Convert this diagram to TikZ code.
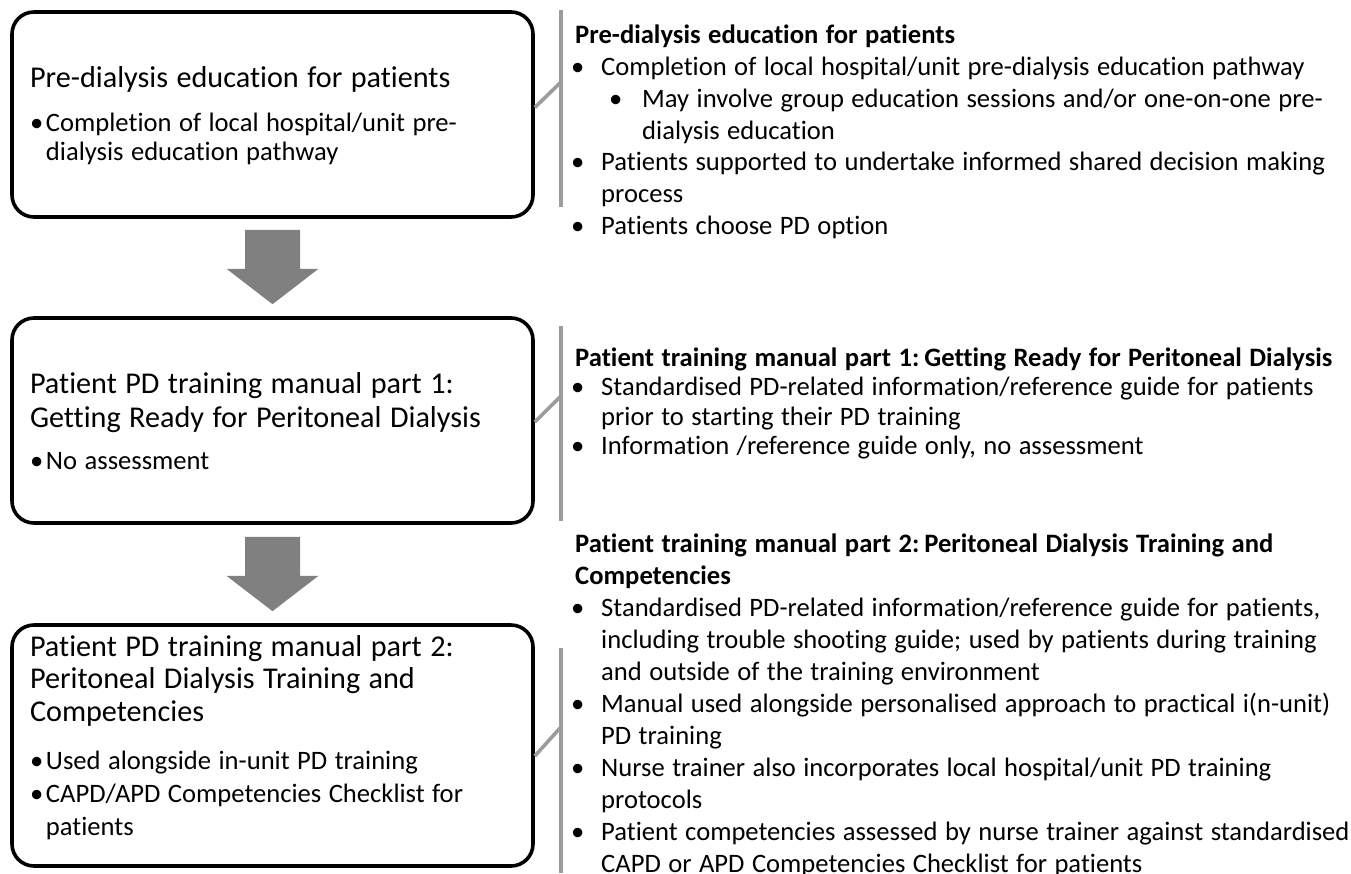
\documentclass[tikz,border=0pt]{standalone}
\usepackage{fontspec}
\setmainfont{Carlito}[Ligatures=NoCommon]
\usetikzlibrary{calc}
\setlength{\parindent}{0pt}
\setlength{\parskip}{0pt}
\hyphenpenalty=10000
\hbadness=10000

\definecolor{arrowgrey}{HTML}{808080}
\definecolor{bracegrey}{HTML}{9C9C9C}

% line break that keeps the hanging indent of the paragraph
\newcommand{\nl}{\hfil\break}
% bullet inside the left-hand boxes
\newcommand{\boxbullet}[1]{\hangindent=16pt\hangafter=1\noindent\makebox[16pt][l]{•}#1\par}
% first- and second-level bullets of the side notes
\newcommand{\notebullet}[1]{\hangindent=26pt\hangafter=1\noindent\makebox[26pt][l]{\hspace{-4pt}•}#1\par}
\newcommand{\subnotebullet}[1]{\hangindent=67pt\hangafter=1\noindent\hspace{34pt}\makebox[33pt][l]{•}#1\par}
% slightly wider word spaces as in the slide text
\newcommand{\widespaces}{\spaceskip=0.28em plus 0.05em minus 0.03em\relax}
\newcommand{\titlefont}[1]{\fontsize{30.2}{#1}\selectfont\widespaces}
\newcommand{\bodyfont}[1]{\fontsize{26.6}{#1}\selectfont\widespaces}

\tikzset{
  stage/.style={draw=black, line width=3.6pt, rounded corners=22pt, fill=white,
    minimum width=521pt, text width=485pt, inner xsep=18pt, inner ysep=0pt,
    align=left},
  note/.style={anchor=north west, inner sep=0pt, text width=800pt, align=left},
  flowarrow/.style={fill=arrowgrey, draw=none},
  brace/.style={draw=bracegrey, line width=3.6pt},
}

\begin{document}
\begin{tikzpicture}[x=1pt, y=-1pt]
\useasboundingbox (0,0) rectangle (1351,873);

% ---- stages ----
\node[stage, minimum height=205pt] (b1) at (272.5,114.5) {%
  {\titlefont{34}\rule{0pt}{24pt}Pre-dialysis education for patients\par}%
  \vspace{15pt}%
  {\bodyfont{29}%
   \boxbullet{Completion of local hospital/unit pre-\nl dialysis education pathway\rule[-6pt]{0pt}{6pt}}}};

\node[stage, minimum height=205pt] (b2) at (272.5,420.5) {%
  {\titlefont{34}\rule{0pt}{24pt}Patient PD training manual part 1:\nl Getting Ready for Peritoneal Dialysis\par}%
  \vspace{9pt}%
  {\bodyfont{33}%
   \boxbullet{No assessment\rule[-2pt]{0pt}{2pt}}}};

\node[stage, minimum height=241pt] (b3) at (272.5,745.5) {%
  {\titlefont{32.5}\rule{0pt}{24pt}Patient PD training manual part 2:\nl Peritoneal Dialysis Training and\nl Competencies\par}%
  \vspace{15pt}%
  {\bodyfont{33}%
   \boxbullet{Used alongside in-unit PD training}
   \boxbullet{CAPD/APD Competencies Checklist for\nl patients\rule[-24pt]{0pt}{24pt}}}};

% ---- arrows between stages ----
\fill[flowarrow] ($(b1.south)+(-27.5,11)$) -- ($(b1.south)+(27.5,11)$)
  -- ($(b1.south)+(27.5,50)$) -- ($(b1.south)+(46,50)$)
  -- ($(b2.north)+(0,-12)$)
  -- ($(b1.south)+(-46,50)$) -- ($(b1.south)+(-27.5,50)$) -- cycle;
\fill[flowarrow] ($(b2.south)+(-27.5,12)$) -- ($(b2.south)+(27.5,12)$)
  -- ($(b2.south)+(27.5,51)$) -- ($(b2.south)+(46,51)$)
  -- ($(b3.north)+(0,-12)$)
  -- ($(b2.south)+(-46,51)$) -- ($(b2.south)+(-27.5,51)$) -- cycle;

% ---- side notes ----
\node[note] (t1) at (575,21.5) {\bodyfont{31.8}%
  \rule{0pt}{22pt}\textbf{Pre-dialysis education for patients}\par
  \notebullet{Completion of local hospital/unit pre-dialysis education pathway}
  \subnotebullet{May involve group education sessions and/or one-on-one pre-\nl dialysis education}
  \notebullet{Patients supported to undertake informed shared decision making\nl process}
  \notebullet{Patients choose PD option}};

\node[note] (t2) at (575,344) {\bodyfont{29.4}%
  \rule{0pt}{22pt}\textbf{Patient training manual part 1: Getting Ready for Peritoneal Dialysis}\par
  \notebullet{Standardised PD-related information/reference guide for patients\nl prior to starting their PD training}
  \notebullet{Information /reference guide only, no assessment}};

\node[note] (t3) at (575,530) {\bodyfont{32}%
  \rule{0pt}{22pt}\textbf{Patient training manual part 2: Peritoneal Dialysis Training and}\nl
  \textbf{Competencies}\par
  \notebullet{Standardised PD-related information/reference guide for patients,\nl including trouble shooting guide; used by patients during training\nl and outside of the training environment}
  \notebullet{Manual used alongside personalised approach to practical i(n-unit)\nl PD training}
  \notebullet{Nurse trainer also incorporates local hospital/unit PD training\nl protocols}
  \notebullet{Patient competencies assessed by nurse trainer against standardised\nl CAPD or APD Competencies Checklist for patients}};

% ---- brackets linking stages to their notes ----
\coordinate (k1top) at (561,10);
\coordinate (k1bot) at (561,207);
\coordinate (k1mid) at (561,82);
\coordinate (k2top) at (561,326);
\coordinate (k2bot) at (561,521);
\coordinate (k2mid) at (561,396);
\coordinate (k3top) at (561,648);
\coordinate (k3bot) at (561,873);
\coordinate (k3mid) at (561,727);

\draw[brace] (k1top) -- (k1bot);
\draw[brace] ($(b1.east)+(0,-7)$) -- (k1mid);
\draw[brace] (k2top) -- (k2bot);
\draw[brace] ($(b2.east)+(0,1.5)$) -- (k2mid);
\draw[brace] (k3top) -- (k3bot);
\draw[brace] ($(b3.east)+(0,10.5)$) -- (k3mid);
\end{tikzpicture}
\end{document}
